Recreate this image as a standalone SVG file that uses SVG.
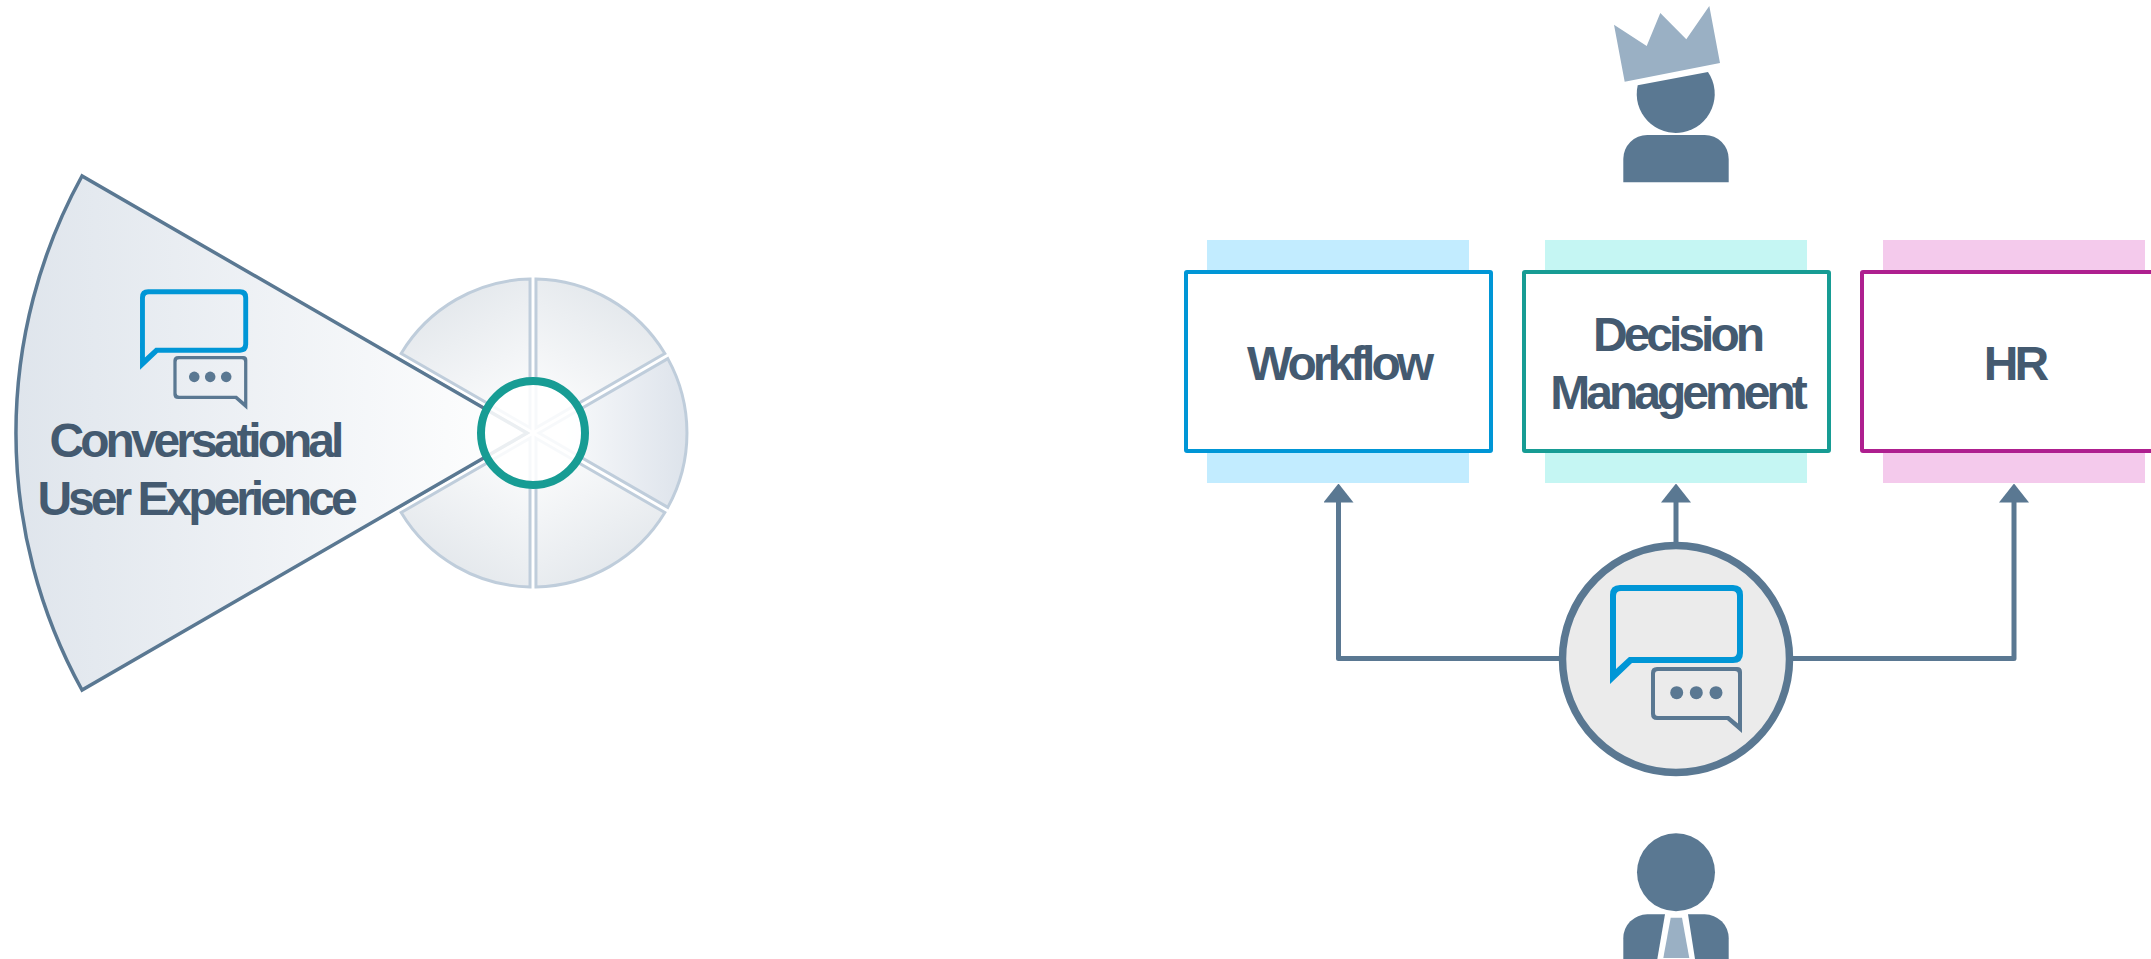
<svg xmlns="http://www.w3.org/2000/svg" xmlns:xlink="http://www.w3.org/1999/xlink" width="2151" height="959" viewBox="0 0 2151 959">
<style>
text{font-family:"Liberation Sans",Arial,sans-serif;font-weight:700;font-size:48px;letter-spacing:-4px;fill:#445a70;text-anchor:middle}
.slice{stroke:#bfcddb;stroke-width:3}
.box{fill:#fff;stroke-width:4}
.dk{fill:#5a7892}
.lt{fill:#9ab0c4}
.conn{fill:none;stroke:#5a7892;stroke-width:5;stroke-linejoin:round;marker-end:url(#ah)}
</style>
<defs>
<linearGradient id="sg" gradientUnits="userSpaceOnUse" x1="533" y1="433" x2="687" y2="433"><stop offset="0" stop-color="#fff"/><stop offset="1" stop-color="#dde3eb"/></linearGradient>
<linearGradient id="sg2" gradientUnits="userSpaceOnUse" x1="540" y1="433" x2="687" y2="433"><stop offset="0" stop-color="#fff"/><stop offset="1" stop-color="#e5e9ed"/></linearGradient>
<linearGradient id="bg" gradientUnits="userSpaceOnUse" x1="15" y1="433" x2="527" y2="433"><stop offset="0" stop-color="#dfe5ec"/><stop offset="1" stop-color="#fff"/></linearGradient>
<marker id="ah" viewBox="0 0 19 30" refX="0.5" refY="15" markerWidth="19" markerHeight="30" markerUnits="userSpaceOnUse" orient="auto"><path d="M0 0L19 15L0 30Z" fill="#5a7892"/></marker>
<path id="sl" class="slice" d="M539 433L667.800 358.600A154 154 0 0 1 667.800 507.400Z"/>
<g id="chat">
<path fill="#0096d6" fill-rule="evenodd" d="M1610 684V595Q1610 585 1620 585H1733Q1743 585 1743 595V653Q1743 663 1733 663H1632ZM1616 669L1629 657H1732Q1737 657 1737 652V596Q1737 591 1732 591H1621Q1616 591 1616 596Z"/>
<path class="dk" fill-rule="evenodd" d="M1742 733V672Q1742 667 1737 667H1657Q1651 667 1651 673V714Q1651 720 1657 720H1727ZM1738 723.500L1729 716H1658Q1655 716 1655 713V674Q1655 671 1658 671H1735Q1738 671 1738 674Z"/>
<circle class="dk" cx="1676.700" cy="692.700" r="6.500"/><circle class="dk" cx="1696.300" cy="692.700" r="6.500"/><circle class="dk" cx="1716" cy="692.700" r="6.500"/>
</g>
</defs>
<g id="pie">
<use xlink:href="#sl" href="#sl" fill="url(#sg)"/>
<use xlink:href="#sl" href="#sl" fill="url(#sg2)" transform="rotate(60 533 433)"/>
<use xlink:href="#sl" href="#sl" fill="url(#sg2)" transform="rotate(120 533 433)"/>
<use xlink:href="#sl" href="#sl" fill="url(#sg2)" transform="rotate(240 533 433)"/>
<use xlink:href="#sl" href="#sl" fill="url(#sg2)" transform="rotate(300 533 433)"/>
<use xlink:href="#sl" href="#sl" fill="url(#sg2)" transform="rotate(180 533 433)"/>
</g>
<g id="conversational-sector">
<path d="M527 433L82 176A533 533 0 0 0 82 690Z" fill="url(#bg)" stroke="#5a7892" stroke-width="3.500" stroke-linejoin="miter"/>
<use xlink:href="#chat" href="#chat" transform="translate(-1168.900 -186.300) scale(.813)"/>
<text x="195" y="457">Conversational</text>
<text x="195.500" y="515">User Experience</text>
</g>
<circle id="hub" cx="533" cy="433" r="52" fill="#fff" fill-opacity=".88" stroke="#179c94" stroke-width="8"/>
<g id="workflow">
<rect x="1207" y="240" width="262" height="243" fill="#c2ecff"/>
<rect class="box" x="1186" y="272" width="305" height="179" rx="1" stroke="#0096d6"/>
<text x="1338.500" y="380">Workflow</text>
</g>
<g id="decision-management">
<rect x="1545" y="240" width="262" height="243" fill="#c5f6f3"/>
<rect class="box" x="1524" y="272" width="305" height="179" rx="1" stroke="#179c94"/>
<text x="1677" y="351">Decision</text>
<text x="1677" y="409">Management</text>
</g>
<g id="hr">
<rect x="1883" y="240" width="262" height="243" fill="#f4caec"/>
<rect class="box" x="1862" y="272" width="305" height="179" rx="1" stroke="#ae1f8f"/>
<text x="2014.500" y="380">HR</text>
</g>
<g id="connectors">
<path class="conn" d="M1562 658.500H1338.500V502"/>
<path class="conn" d="M1676 545V502"/>
<path class="conn" d="M1790 658.500H2014V502"/>
</g>
<g id="conversation-hub">
<circle cx="1676" cy="659" r="113.500" fill="#ebebeb" stroke="#5a7892" stroke-width="7.500"/>
<use xlink:href="#chat" href="#chat"/>
</g>
<g id="executive">
<path class="lt" d="M1614 24.700L1646.700 46L1660.300 13L1686.300 39.300L1709.300 6L1720 63L1624.700 81.700Z"/>
<path class="dk" d="M1637.700 85.300L1708 72A39 39 0 1 1 1637.700 85.300Z"/>
<path class="dk" d="M1623.300 182.300V159A24 24 0 0 1 1647.300 135H1704.700A24 24 0 0 1 1728.700 159V182.300Z"/>
</g>
<g id="employee">
<circle class="dk" cx="1676" cy="872.300" r="39"/>
<path class="dk" d="M1623.300 959V938.300A24 24 0 0 1 1647.300 914.300H1665L1657.300 959Z"/>
<path class="dk" d="M1728.700 959V938.300A24 24 0 0 0 1704.700 914.300H1688L1695 959Z"/>
<path class="lt" d="M1670.700 917.700H1682L1689.300 958H1663.300Z"/>
</g>
</svg>
